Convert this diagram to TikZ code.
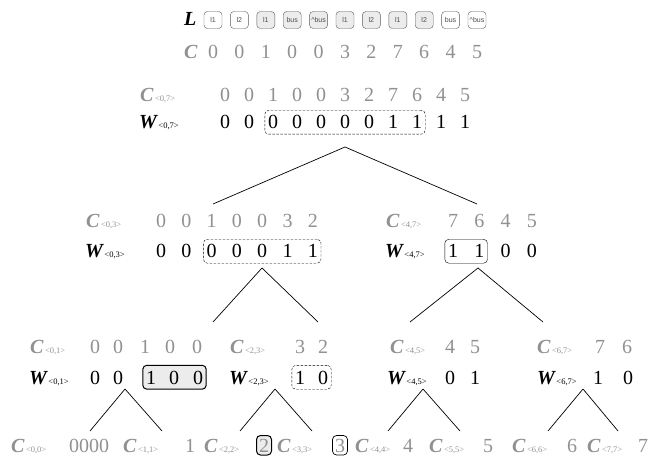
\documentclass[tikz,border=0pt]{standalone}
\usepackage{fontspec}
\setmainfont{Liberation Serif}
\setsansfont{Liberation Sans}
\usetikzlibrary{fit,backgrounds}

\definecolor{cgray}{RGB}{145,145,145}
\definecolor{lightfill}{RGB}{236,236,236}

% letter with its range, e.g. C<0,7>
\newcommand{\rng}[2]{{\fontsize{20}{20}\selectfont\bfseries\itshape #1}\hspace{1.5pt}{\fontsize{8.5}{8.5}\selectfont <#2>}}

\tikzset{
	cdig/.style={anchor=base, text=cgray, font=\fontsize{20}{20}\selectfont, inner sep=1pt, text height=13.5pt, text depth=0pt},
	wdig/.style={cdig, text=black},
	clab/.style={anchor=base west, text=cgray, inner sep=0pt},
	wlab/.style={anchor=base west, text=black, inner sep=0pt},
	lbox/.style={draw=black!65, rounded corners=3.5pt, minimum width=18pt, minimum height=17pt, inner sep=0pt, font=\sffamily\fontsize{7}{7}\selectfont, text=black!70},
	dashbox/.style={draw, dash pattern=on 2.5pt off 1.5pt, rounded corners=4pt, inner xsep=2pt, inner ysep=4pt},
	solidbox/.style={draw, rounded corners=4pt, inner xsep=2pt, inner ysep=4pt},
	greybox/.style={solidbox, fill=lightfill, line width=1pt},
	branch/.style={draw, line width=0.7pt}
}

\begin{document}
\begin{tikzpicture}[x=1pt, y=-1pt]
	\useasboundingbox (0,0) rectangle (664,457);
	
	% top rows
	\node[wlab] (L) at (184,26) {\fontsize{20}{20}\selectfont\bfseries\itshape L};
	\foreach \t/\f [count=\i] in {l1/white, l2/white, l1/lightfill, bus/lightfill, \textasciicircum bus/lightfill, l1/lightfill, l2/lightfill, l1/lightfill, l2/lightfill, bus/white, \textasciicircum bus/white}
		\node[lbox, fill=\f] (l-\i) at ({213+26.4*(\i-1)},20) {\t};
	
	\node[clab] (C) at (184,59) {\fontsize{20}{20}\selectfont\bfseries\itshape C};
	\foreach \d [count=\i] in {0,0,1,0,0,3,2,7,6,4,5}
		\node[cdig] (c-\i) at ({213+26.4*(\i-1)},59) {\d};
	
	% level 1
	\node[clab] (c07) at (140,102) {\rng{C}{0,7}};
	\node[wlab] (w07) at (139,129) {\rng{W}{0,7}};
	\foreach \d [count=\i] in {0,0,1,0,0,3,2,7,6,4,5}
		\node[cdig] (c07-\i) at ({225+24*(\i-1)},102) {\d};
	\foreach \d [count=\i] in {0,0,0,0,0,0,0,1,1,1,1}
		\node[wdig] (w07-\i) at ({225+24*(\i-1)},129) {\d};
	\node[dashbox, fit=(w07-3)(w07-9)] (s07) {};
	
	% level 2
	\node[clab] (c03) at (86,228) {\rng{C}{0,3}};
	\node[wlab] (w03) at (85,258) {\rng{W}{0,3}};
	\foreach \d [count=\i] in {0,0,1,0,0,3,2}
		\node[cdig] (c03-\i) at ({161+25.3*(\i-1)},228) {\d};
	\foreach \d [count=\i] in {0,0,0,0,0,1,1}
		\node[wdig] (w03-\i) at ({161+25.3*(\i-1)},258) {\d};
	\node[dashbox, fit=(w03-3)(w03-7)] (s03) {};
	
	\node[clab] (c47) at (386,228) {\rng{C}{4,7}};
	\node[wlab] (w47) at (385,258) {\rng{W}{4,7}};
	\foreach \d [count=\i] in {7,6,4,5}
		\node[cdig] (c47-\i) at ({453+26.3*(\i-1)},228) {\d};
	\foreach \d [count=\i] in {1,1,0,0}
		\node[wdig] (w47-\i) at ({453+26.3*(\i-1)},258) {\d};
	\node[solidbox, fit=(w47-1)(w47-2)] (s47) {};
	
	% level 3
	\node[clab] (c01) at (30,353) {\rng{C}{0,1}};
	\node[wlab] (w01) at (29,384) {\rng{W}{0,1}};
	\foreach \x/\d [count=\i] in {95/0,118/0,145/1,170/0,197/0}
		\node[cdig] (c01-\i) at (\x,353) {\d};
	\foreach \x/\d [count=\i] in {95/0,118/0,151/1,174/0,198/0}
		\node[wdig] (w01-\i) at (\x,384) {\d};
	\begin{pgfonlayer}{background}
		\node[greybox, fit=(w01-3)(w01-5)] (s01) {};
	\end{pgfonlayer}
	
	\node[clab] (c23) at (230,353) {\rng{C}{2,3}};
	\node[wlab] (w23) at (229,384) {\rng{W}{2,3}};
	\foreach \x/\d [count=\i] in {300/3,323/2}
		\node[cdig] (c23-\i) at (\x,353) {\d};
	\foreach \x/\d [count=\i] in {300/1,323/0}
		\node[wdig] (w23-\i) at (\x,384) {\d};
	\node[dashbox, fit=(w23-1)(w23-2)] (s23) {};
	
	\node[clab] (c45) at (390,353) {\rng{C}{4,5}};
	\node[wlab] (w45) at (387,384) {\rng{W}{4,5}};
	\foreach \x/\d [count=\i] in {450/4,475/5}
		\node[cdig] (c45-\i) at (\x,353) {\d};
	\foreach \x/\d [count=\i] in {450/0,475/1}
		\node[wdig] (w45-\i) at (\x,384) {\d};
	
	\node[clab] (c67) at (537,353) {\rng{C}{6,7}};
	\node[wlab] (w67) at (537,384) {\rng{W}{6,7}};
	\foreach \x/\d [count=\i] in {600/7,627/6}
		\node[cdig] (c67-\i) at (\x,353) {\d};
	\foreach \x/\d [count=\i] in {598/1,628/0}
		\node[wdig] (w67-\i) at (\x,384) {\d};
	
	% leaves
	\node[clab] (c00) at (11,452) {\rng{C}{0,0}};
	\node[cdig] (d00) at (89,452) {0000};
	\node[clab] (c11) at (123,452) {\rng{C}{1,1}};
	\node[cdig] (d11) at (190,452) {1};
	\node[clab] (c22) at (204,452) {\rng{C}{2,2}};
	\node[cdig, greybox, inner xsep=2.5pt, inner ysep=3pt] (d22) at (264,452) {2};
	\node[clab] (c33) at (277,452) {\rng{C}{3,3}};
	\node[cdig, solidbox, line width=0.7pt, inner xsep=2.5pt, inner ysep=3pt] (d33) at (340,452) {3};
	\node[clab] (c44) at (355,452) {\rng{C}{4,4}};
	\node[cdig] (d44) at (408,452) {4};
	\node[clab] (c55) at (429,452) {\rng{C}{5,5}};
	\node[cdig] (d55) at (488,452) {5};
	\node[clab] (c66) at (512,452) {\rng{C}{6,6}};
	\node[cdig] (d66) at (572,452) {6};
	\node[clab] (c77) at (587,452) {\rng{C}{7,7}};
	\node[cdig] (d77) at (643,452) {7};
	
	% branches
	\coordinate (t07) at (345,147);
	\coordinate (t07l) at (213,204);
	\coordinate (t07r) at (477,204);
	\coordinate (t03) at (262,268);
	\coordinate (t03l) at (213,322);
	\coordinate (t03r) at (318,322);
	\coordinate (t47) at (478,268);
	\coordinate (t47l) at (410,322);
	\coordinate (t47r) at (543,322);
	\coordinate (t01) at (125,389);
	\coordinate (t01l) at (90,431);
	\coordinate (t01r) at (162,431);
	\coordinate (t23) at (275,389);
	\coordinate (t23l) at (240,431);
	\coordinate (t23r) at (312,431);
	\coordinate (t45) at (423,389);
	\coordinate (t45l) at (388,431);
	\coordinate (t45r) at (460,431);
	\coordinate (t67) at (583,389);
	\coordinate (t67l) at (548,431);
	\coordinate (t67r) at (618,431);
	
	\foreach \n in {07,03,47,01,23,45,67} {
		\path[branch] (t\n) -- (t\n l);
		\path[branch] (t\n) -- (t\n r);
	}
	
\end{tikzpicture}
\end{document}
